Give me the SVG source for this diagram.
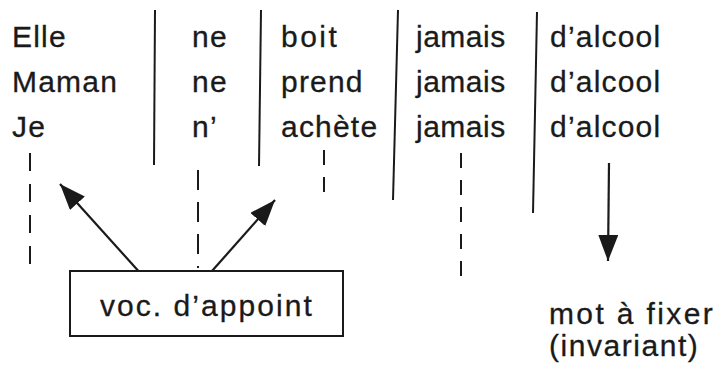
<svg xmlns="http://www.w3.org/2000/svg" width="716" height="367" viewBox="0 0 716 367">
<defs>
<marker id="ah" markerUnits="userSpaceOnUse" markerWidth="30" markerHeight="24" refX="26" refY="10" orient="auto">
<path d="M0,0 L26,10 L0,20 Z" fill="#1a1a1a"/>
</marker>
<style>
text{font-family:"Liberation Sans",Arial,sans-serif;font-size:30px;fill:#1a1a1a;letter-spacing:1.2px;stroke:#1a1a1a;stroke-width:0.3px}
.sep{stroke:#1a1a1a;stroke-width:2;fill:none}
.dash{stroke:#1a1a1a;stroke-width:2;fill:none;stroke-dasharray:18 13}
.arr{stroke:#1a1a1a;stroke-width:2.2;fill:none;marker-end:url(#ah)}
</style>
</defs>
<rect width="716" height="367" fill="#fff"/>
<g id="table">
<text x="12" y="47">Elle</text>
<text x="12" y="92">Maman</text>
<text x="12" y="137">Je</text>
<text x="192" y="47">ne</text>
<text x="192" y="92">ne</text>
<text x="192" y="137">n’</text>
<text x="281" y="47" style="letter-spacing:2.5px">boit</text>
<text x="281" y="92">prend</text>
<text x="281" y="137">achète</text>
<text x="416" y="47" style="letter-spacing:0.5px">jamais</text>
<text x="416" y="92" style="letter-spacing:0.5px">jamais</text>
<text x="416" y="137" style="letter-spacing:0.5px">jamais</text>
<text x="550" y="47">d’alcool</text>
<text x="550" y="92">d’alcool</text>
<text x="550" y="137">d’alcool</text>
<line class="sep" x1="155" y1="10" x2="154" y2="165"/>
<line class="sep" x1="261" y1="10" x2="259" y2="166"/>
<line class="sep" x1="398" y1="10" x2="393" y2="200"/>
<line class="sep" x1="537" y1="12" x2="533" y2="213"/>
</g>
<g id="connectors">
<line class="dash" x1="30" y1="153" x2="30" y2="268"/>
<line class="dash" x1="198" y1="170" x2="198" y2="268" style="stroke-dasharray:20 12"/>
<line class="dash" x1="324" y1="150" x2="324" y2="195" style="stroke-dasharray:15 12"/>
<line class="dash" x1="461" y1="153" x2="461" y2="280" style="stroke-dasharray:15 12"/>
<line class="arr" x1="142" y1="275" x2="60" y2="184"/>
<line class="arr" x1="212" y1="271" x2="275" y2="200"/>
<line class="arr" x1="609" y1="163" x2="608" y2="261"/>
</g>
<g id="appoint">
<rect x="70" y="271" width="273" height="65" fill="#fff" stroke="#1a1a1a" stroke-width="2"/>
<text x="100" y="316" textLength="213" lengthAdjust="spacing">voc. d’appoint</text>
</g>
<g id="fixer">
<text x="549" y="324" textLength="165" lengthAdjust="spacing">mot à fixer</text>
<text x="549" y="356" textLength="150" lengthAdjust="spacing">(invariant)</text>
</g>
</svg>
